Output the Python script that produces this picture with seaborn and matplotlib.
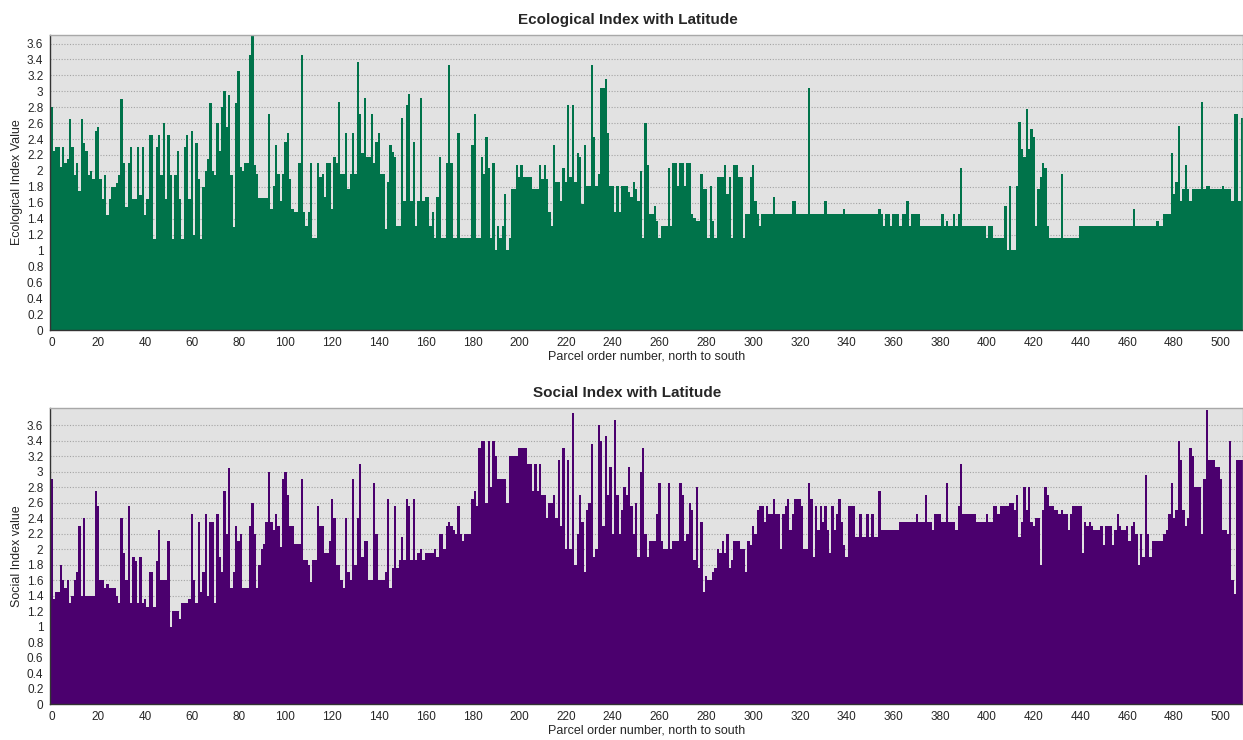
import numpy as np
import pandas as pd
import matplotlib
matplotlib.use('Agg')
import matplotlib.pyplot as plt
import seaborn as sns

# ecological index per parcel (north to south)
eco = [
    2.8, 2.25, 2.3, 2.3, 2.05, 2.3, 2.1, 2.15, 2.65, 2.3,
    1.95, 2.1, 1.75, 2.65, 2.35, 2.25, 1.95, 2.0, 1.9, 2.5,
    2.55, 1.9, 1.65, 1.95, 1.45, 1.65, 1.8, 1.8, 1.85, 1.95,
    2.9, 2.1, 1.55, 2.1, 2.3, 1.65, 1.65, 2.3, 1.7, 2.3,
    1.45, 1.65, 2.45, 2.45, 1.15, 2.3, 2.45, 1.95, 2.6, 1.65,
    2.45, 1.95, 1.15, 1.95, 2.25, 1.65, 1.15, 2.3, 2.45, 1.65,
    2.5, 1.2, 2.35, 1.9, 1.15, 1.8, 2.0, 2.15, 2.85, 2.0,
    1.95, 2.6, 2.25, 2.8, 3.0, 2.55, 2.95, 1.95, 1.3, 2.85,
    3.25, 2.05, 2.0, 2.1, 2.1, 3.45, 3.7, 2.07, 1.96, 1.66,
    1.66, 1.66, 1.66, 2.72, 1.52, 1.81, 2.32, 1.96, 1.62, 1.96,
    # 100
    2.36, 2.47, 1.9, 1.52, 1.48, 1.48, 2.1, 3.45, 1.48, 1.31,
    1.48, 2.1, 1.16, 1.16, 2.1, 1.92, 1.96, 1.67, 2.1, 2.1,
    1.52, 2.17, 2.1, 2.87, 1.96, 1.96, 2.47, 1.77, 1.96, 2.47,
    1.96, 3.37, 2.72, 2.22, 2.92, 2.17, 2.17, 2.72, 2.1, 2.36,
    2.47, 1.96, 1.96, 1.27, 1.86, 2.32, 2.24, 2.17, 1.31, 1.31,
    2.67, 1.62, 2.83, 2.97, 1.62, 2.36, 1.31, 1.62, 2.92, 1.62,
    1.67, 1.67, 1.31, 1.48, 1.16, 1.67, 2.17, 1.16, 1.16, 2.1,
    3.33, 2.1, 1.16, 1.16, 2.47, 1.16, 1.16, 1.16, 1.16, 1.16,
    2.32, 2.72, 1.16, 1.16, 2.17, 1.96, 2.43, 2.03, 1.16, 2.1,
    1.01, 1.31, 1.16, 1.31, 1.71, 1.01, 1.16, 1.77, 1.77, 2.07,
    # 200
    1.92, 2.07, 1.92, 1.92, 1.92, 1.92, 1.77, 1.77, 1.77, 2.07,
    1.9, 2.07, 1.9, 1.48, 1.31, 2.32, 1.86, 1.86, 1.62, 2.03,
    1.86, 2.83, 1.92, 2.83, 1.86, 2.22, 2.17, 1.58, 2.32, 1.81,
    1.81, 3.33, 2.43, 1.81, 1.96, 3.04, 3.04, 3.16, 2.47, 1.81,
    1.81, 1.48, 1.81, 1.48, 1.81, 1.81, 1.81, 1.74, 1.67, 1.86,
    1.77, 1.62, 2.0, 1.16, 2.6, 2.07, 1.46, 1.46, 1.56, 1.37,
    1.16, 1.31, 1.31, 1.31, 2.03, 1.31, 2.1, 2.1, 1.81, 2.1,
    2.1, 1.81, 2.1, 2.1, 1.46, 1.41, 1.37, 1.37, 1.96, 1.77,
    1.77, 1.16, 1.81, 1.37, 1.16, 1.92, 1.92, 1.92, 2.07, 1.71,
    1.92, 1.16, 2.07, 2.07, 1.92, 1.92, 1.16, 1.46, 1.46, 1.92,
    # 300
    2.07, 1.62, 1.46, 1.31, 1.46, 1.46, 1.46, 1.46, 1.46, 1.67,
    1.46, 1.46, 1.46, 1.46, 1.46, 1.46, 1.46, 1.62, 1.62, 1.46,
    1.46, 1.46, 1.46, 1.46, 3.04, 1.46, 1.46, 1.46, 1.46, 1.46,
    1.46, 1.62, 1.46, 1.46, 1.46, 1.46, 1.46, 1.46, 1.46, 1.52,
    1.46, 1.46, 1.46, 1.46, 1.46, 1.46, 1.46, 1.46, 1.46, 1.46,
    1.46, 1.46, 1.46, 1.46, 1.52, 1.46, 1.31, 1.46, 1.46, 1.31,
    1.46, 1.46, 1.46, 1.31, 1.46, 1.46, 1.62, 1.31, 1.46, 1.46,
    1.46, 1.46, 1.31, 1.31, 1.31, 1.31, 1.31, 1.31, 1.31, 1.31,
    1.31, 1.46, 1.31, 1.37, 1.31, 1.31, 1.46, 1.31, 1.46, 2.03,
    1.31, 1.31, 1.31, 1.31, 1.31, 1.31, 1.31, 1.31, 1.31, 1.31,
    # 400
    1.16, 1.31, 1.31, 1.16, 1.16, 1.16, 1.16, 1.16, 1.56, 1.01,
    1.81, 1.01, 1.01, 1.81, 2.62, 2.28, 2.17, 2.78, 2.28, 2.53,
    2.43, 1.31, 1.77, 1.92, 2.1, 2.03, 1.31, 1.16, 1.16, 1.16,
    1.16, 1.16, 1.96, 1.16, 1.16, 1.16, 1.16, 1.16, 1.16, 1.16,
    1.31, 1.31, 1.31, 1.31, 1.31, 1.31, 1.31, 1.31, 1.31, 1.31,
    1.31, 1.31, 1.31, 1.31, 1.31, 1.31, 1.31, 1.31, 1.31, 1.31,
    1.31, 1.31, 1.31, 1.52, 1.31, 1.31, 1.31, 1.31, 1.31, 1.31,
    1.31, 1.31, 1.31, 1.37, 1.31, 1.31, 1.46, 1.46, 1.46, 2.22,
    1.71, 1.86, 2.57, 1.62, 1.77, 2.07, 1.77, 1.62, 1.77, 1.77,
    1.77, 1.77, 2.87, 1.77, 1.81, 1.81, 1.77, 1.77, 1.77, 1.77,
    # 500
    1.77, 1.81, 1.77, 1.77, 1.77, 1.62, 2.72, 2.72, 1.62, 2.66,
]

# social index per parcel
soc = [
    2.9, 1.35, 1.45, 1.45, 1.8, 1.6, 1.5, 1.6, 1.3, 1.4,
    1.6, 1.7, 2.3, 1.4, 2.4, 1.4, 1.4, 1.4, 1.4, 2.75,
    2.55, 1.6, 1.6, 1.5, 1.55, 1.5, 1.5, 1.5, 1.4, 1.3,
    2.4, 1.95, 1.6, 2.55, 1.3, 1.9, 1.85, 1.3, 1.9, 1.3,
    1.35, 1.25, 1.7, 1.7, 1.25, 1.85, 2.25, 1.6, 1.6, 1.6,
    2.1, 1.0, 1.2, 1.2, 1.2, 1.1, 1.3, 1.3, 1.3, 1.35,
    2.45, 1.6, 1.3, 2.35, 1.45, 1.7, 2.45, 1.4, 2.35, 2.35,
    1.3, 2.45, 1.9, 1.7, 2.75, 2.2, 3.05, 1.5, 1.7, 2.3,
    2.1, 2.2, 1.5, 1.5, 1.5, 2.3, 2.6, 2.2, 1.5, 1.8,
    2.0, 2.06, 2.35, 3.0, 2.35, 2.25, 2.45, 2.3, 2.03, 2.9,
    # 100
    3.0, 2.7, 2.3, 2.3, 2.06, 2.06, 2.06, 2.9, 1.86, 1.86,
    1.8, 1.57, 1.86, 1.86, 2.56, 2.3, 2.3, 1.95, 1.95, 2.1,
    2.65, 2.4, 1.8, 1.8, 1.6, 1.5, 2.4, 1.71, 1.6, 2.9,
    1.8, 2.4, 3.1, 1.9, 2.1, 2.1, 1.6, 1.6, 2.85, 2.2,
    1.6, 1.6, 1.6, 1.71, 2.65, 1.5, 1.75, 2.56, 1.75, 1.86,
    2.15, 1.86, 2.65, 2.56, 1.86, 2.65, 1.86, 1.95, 2.0, 1.86,
    1.95, 1.95, 1.95, 1.95, 2.0, 1.9, 2.2, 2.2, 2.0, 2.3,
    2.35, 2.3, 2.25, 2.2, 2.55, 2.2, 2.1, 2.2, 2.2, 2.2,
    2.65, 2.75, 2.55, 3.3, 3.4, 3.4, 2.6, 3.4, 2.8, 3.4,
    3.2, 2.9, 2.9, 2.9, 2.9, 2.6, 3.2, 3.2, 3.2, 3.2,
    # 200
    3.3, 3.3, 3.3, 3.3, 3.1, 3.1, 2.75, 3.1, 2.75, 3.1,
    2.7, 2.7, 2.4, 2.6, 2.6, 2.7, 2.4, 3.15, 2.3, 3.3,
    2.0, 3.15, 2.0, 3.76, 1.8, 2.2, 2.7, 2.35, 1.71, 2.5,
    2.6, 3.36, 1.9, 2.0, 3.6, 3.4, 2.3, 3.46, 2.7, 3.06,
    2.2, 3.66, 2.7, 2.2, 2.5, 2.8, 2.7, 3.06, 2.55, 2.2,
    2.6, 1.9, 3.0, 3.3, 2.2, 1.9, 2.1, 2.1, 2.1, 2.45,
    2.85, 2.1, 2.0, 2.0, 2.85, 2.0, 2.1, 2.1, 2.1, 2.85,
    2.7, 2.1, 2.2, 2.6, 2.5, 1.86, 2.8, 1.75, 2.35, 1.45,
    1.65, 1.6, 1.6, 1.71, 1.75, 2.0, 1.95, 2.1, 1.95, 2.2,
    1.75, 1.86, 2.1, 2.1, 2.1, 2.0, 2.0, 1.71, 2.1, 2.05,
    # 300
    2.3, 2.2, 2.5, 2.55, 2.55, 2.35, 2.55, 2.45, 2.45, 2.65,
    2.45, 2.45, 2.0, 2.45, 2.55, 2.65, 2.25, 2.45, 2.65, 2.65,
    2.65, 2.55, 2.0, 2.0, 2.85, 2.65, 1.9, 2.55, 2.25, 2.55,
    2.35, 2.55, 2.25, 1.95, 2.55, 2.25, 2.45, 2.65, 2.35, 2.05,
    1.9, 2.55, 2.55, 2.55, 2.16, 2.16, 2.45, 2.16, 2.16, 2.45,
    2.16, 2.45, 2.16, 2.16, 2.75, 2.25, 2.25, 2.25, 2.25, 2.25,
    2.25, 2.25, 2.25, 2.35, 2.35, 2.35, 2.35, 2.35, 2.35, 2.35,
    2.45, 2.35, 2.35, 2.35, 2.7, 2.35, 2.35, 2.25, 2.45, 2.45,
    2.45, 2.35, 2.35, 2.85, 2.35, 2.35, 2.35, 2.25, 2.55, 3.1,
    2.45, 2.45, 2.45, 2.45, 2.45, 2.45, 2.35, 2.35, 2.35, 2.35,
    # 400
    2.45, 2.35, 2.35, 2.55, 2.55, 2.45, 2.55, 2.55, 2.55, 2.55,
    2.6, 2.6, 2.5, 2.7, 2.16, 2.35, 2.8, 2.5, 2.8, 2.35,
    2.3, 2.4, 2.4, 1.8, 2.5, 2.8, 2.7, 2.55, 2.55, 2.5,
    2.5, 2.45, 2.5, 2.45, 2.45, 2.25, 2.45, 2.55, 2.55, 2.55,
    2.55, 1.95, 2.35, 2.3, 2.35, 2.3, 2.25, 2.25, 2.25, 2.3,
    2.05, 2.3, 2.3, 2.3, 2.05, 2.25, 2.45, 2.3, 2.25, 2.25,
    2.3, 2.1, 2.3, 2.35, 2.2, 1.8, 2.2, 1.9, 2.95, 2.2,
    1.9, 2.1, 2.1, 2.1, 2.1, 2.1, 2.2, 2.25, 2.45, 2.85,
    2.4, 2.5, 3.4, 3.15, 2.5, 2.3, 2.4, 3.3, 3.2, 2.8,
    2.8, 2.8, 2.2, 2.9, 3.8, 3.15, 3.15, 3.15, 3.06, 3.06,
    # 500
    2.9, 2.25, 2.25, 2.2, 3.4, 1.6, 1.42, 3.15, 3.15, 3.15,
]

xticks = list(range(0, 501, 20))
yticks = [0, 0.2, 0.4, 0.6, 0.8, 1, 1.2, 1.4, 1.6, 1.8, 2, 2.2, 2.4, 2.6, 2.8, 3, 3.2, 3.4, 3.6]

sns.set_style('white')
plt.rcParams['font.family'] = ['Liberation Sans', 'DejaVu Sans']

fig = plt.figure(figsize=(12.43, 7.40), dpi=100)
ax1 = fig.add_axes([0.0405, 0.554, 0.9595, 0.399])
ax2 = fig.add_axes([0.0405, 0.0486, 0.9595, 0.4])


def panel(ax, vals, color, title, ylabel, ytop):
    df = pd.DataFrame({'parcel': np.arange(len(vals)), 'value': vals})
    sns.barplot(data=df, x='parcel', y='value', native_scale=True, width=1.0,
                color=color, saturation=1, linewidth=0, errorbar=None, ax=ax)
    ax.set_facecolor('#E2E2E2')
    ax.set_xlim(-0.5, len(vals) - 0.5)
    ax.set_ylim(0, ytop)
    ax.set_yticks(yticks)
    ax.set_yticklabels([f'{t:g}' for t in yticks], fontsize=8.5)
    ax.set_xticks(xticks)
    ax.set_xticklabels([str(t) for t in xticks], fontsize=8.5)
    ax.yaxis.grid(True, linestyle=(0, (1, 1.5)), color='#a4a4a4', linewidth=0.8)
    ax.set_axisbelow(True)
    ax.tick_params(axis='both', direction='out', length=3, width=0.8,
                   color='#333333', pad=2)
    for s in ['left', 'bottom']:
        ax.spines[s].set_color('#333333')
        ax.spines[s].set_linewidth(1.0)
    for s in ['top', 'right']:
        ax.spines[s].set_color('#a8a8a8')
        ax.spines[s].set_linewidth(1.0)
    ax.set_title(title, fontsize=11, fontweight='bold', pad=8, x=0.484)
    ax.set_xlabel('Parcel order number, north to south', fontsize=9, labelpad=1)
    ax.set_ylabel(ylabel, fontsize=9, labelpad=3)


panel(ax1, eco, '#00734A', 'Ecological Index with Latitude',
      'Ecological Index Value', 3.71)
panel(ax2, soc, '#4B006E', 'Social Index with Latitude',
      'Social Index value', 3.82)

fig.savefig('out.png', dpi=100)
